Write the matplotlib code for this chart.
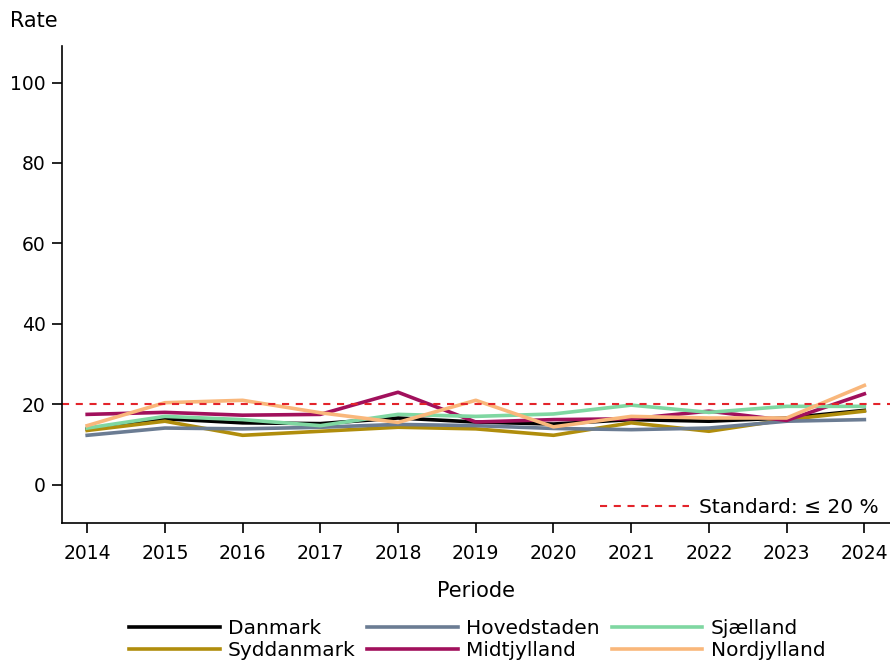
import matplotlib
matplotlib.use("Agg")
import matplotlib.pyplot as plt

years = list(range(2014, 2025))
danmark = [13.9, 16.4, 15.4, 15.2, 16.6, 15.6, 15.1, 16.2, 15.8, 16.6, 18.5]
hovedstaden = [12.3, 14.1, 13.9, 14.3, 15.0, 14.7, 14.0, 13.7, 14.1, 15.8, 16.2]
sjaelland = [14.1, 17.0, 16.2, 14.7, 17.5, 17.0, 17.6, 19.8, 18.0, 19.5, 19.5]
syddanmark = [13.5, 15.8, 12.3, 13.3, 14.3, 13.9, 12.3, 15.4, 13.3, 16.2, 18.3]
midtjylland = [17.5, 18.0, 17.3, 17.5, 23.0, 15.6, 16.2, 16.4, 18.3, 16.0, 22.6]
nordjylland = [14.7, 20.4, 21.0, 17.9, 15.5, 21.0, 14.4, 17.0, 16.6, 16.6, 24.7]
standard = 20

# legend fills column-wise, so this order gives rows
# Danmark/Hovedstaden/Sjælland and Syddanmark/Midtjylland/Nordjylland
series = [
    ("Danmark", danmark, "#000000"),
    ("Syddanmark", syddanmark, "#b08d0c"),
    ("Hovedstaden", hovedstaden, "#6b7c93"),
    ("Midtjylland", midtjylland, "#a1105c"),
    ("Sjælland", sjaelland, "#7fd7a1"),
    ("Nordjylland", nordjylland, "#f9b77b"),
]

plt.rcParams["font.family"] = "DejaVu Sans"
fig = plt.figure(figsize=(8.9, 6.62), dpi=100)
ax = fig.add_axes([0.07, 0.21, 0.93, 0.72])

handles = []
for name, vals, col in series:
    h, = ax.plot(years, vals, color=col, lw=2.6, label=name)
    handles.append(h)

std_line = ax.axhline(standard, color="#e3242b", lw=1.5, ls=(0, (3.4, 3.2)),
                      label="Standard: \u2264 20 %")

ax.set_xlim(2013.68, 2024.33)
ax.set_ylim(-9.5, 109)
ax.set_xticks(years)
ax.set_yticks([0, 20, 40, 60, 80, 100])
ax.tick_params(labelsize=13.5, length=7, width=1.2, pad=5)
ax.tick_params(axis="x", pad=8)
for s in ["left", "bottom"]:
    ax.spines[s].set_linewidth(1.2)
ax.spines["top"].set_visible(False)
ax.spines["right"].set_visible(False)
ax.set_xlabel("Periode", fontsize=15, labelpad=13)
fig.text(0.011, 0.968, "Rate", fontsize=15, va="center")

ax.legend(handles=[std_line], loc="lower right", frameon=False,
          fontsize=14.5, handlelength=4.4, handletextpad=0.5,
          borderaxespad=0.3, bbox_to_anchor=(1.003, -0.018))

fig.legend(handles=handles, loc="lower center", ncol=3, frameon=False,
           fontsize=14.5, handlelength=4.5, columnspacing=0.6,
           labelspacing=0.15, handletextpad=0.4,
           bbox_to_anchor=(0.536, -0.024))

fig.savefig("out.png", dpi=100)
